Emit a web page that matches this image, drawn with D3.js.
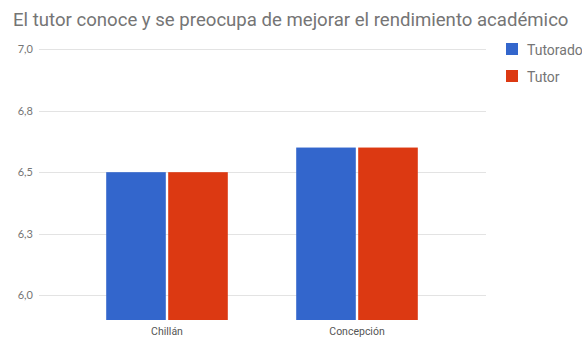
<!DOCTYPE html>
<html>
<head>
<meta charset="utf-8">
<script src="https://cdn.jsdelivr.net/npm/d3@7"></script>
<style>
  html, body { margin: 0; padding: 0; background: #fff; }
  svg { display: block; font-family: Roboto, "Noto Sans", Arial, sans-serif; }
</style>
</head>
<body>
<svg id="chart" width="582" height="338"></svg>
<script>
const title = "El tutor conoce y se preocupa de mejorar el rendimiento académico";
const categories = ["Chillán", "Concepción"];
const seriesNames = ["Tutorado", "Tutor"];
const tutoradoValues = [6.5, 6.6];
const tutorValues = [6.5, 6.6];
const tickValues = [6.0, 6.25, 6.5, 6.75, 7.0];
const tickLabels = ["6,0", "6,3", "6,5", "6,8", "7,0"];
const colors = ["#3366cc", "#dc3912"];

const seriesValues = [tutoradoValues, tutorValues];

const svg = d3.select("#chart");

const y = d3.scaleLinear().domain([5.9, 7.0]).range([320, 49]);
const x0 = d3.scaleBand().domain(categories).range([72, 452]).paddingInner(0.36).paddingOuter(0.18);
const x1 = d3.scaleBand().domain(seriesNames).range([0, x0.bandwidth()]);

// title
svg.append("text")
  .attr("x", 13).attr("y", 26)
  .attr("font-size", 18.6)
  .attr("fill", "#757575")
  .text(title);

// gridlines
svg.append("g").selectAll("line").data(tickValues).join("line")
  .attr("x1", 39).attr("x2", 486)
  .attr("y1", d => Math.round(y(d)) + 0.5).attr("y2", d => Math.round(y(d)) + 0.5)
  .attr("stroke", "#e3e3e3").attr("stroke-width", 1);

// y axis labels
const yAxis = d3.axisLeft(y).tickValues(tickValues).tickFormat((d, i) => tickLabels[i]).tickSize(0).tickPadding(0);
const gy = svg.append("g").attr("transform", "translate(33,0)").call(yAxis);
gy.select(".domain").remove();
gy.selectAll("text").attr("font-size", 11).attr("fill", "#757575").attr("font-family", "Lato, Roboto, sans-serif");

// bars
const groups = svg.append("g").selectAll("g").data(categories).join("g")
  .attr("transform", d => `translate(${x0(d)},0)`);
groups.selectAll("rect")
  .data((c, ci) => seriesNames.map((s, si) => ({ s, v: seriesValues[si][ci], si })))
  .join("rect")
  .attr("x", d => x1(d.s) + (d.si === 1 ? 1.2 : 0))
  .attr("width", x1.bandwidth() - 1.2)
  .attr("y", d => y(d.v))
  .attr("height", d => y(5.9) - y(d.v))
  .attr("fill", d => colors[d.si]);

// x axis labels
const xAxis = d3.axisBottom(x0).tickSize(0).tickPadding(0);
const gx = svg.append("g").attr("transform", "translate(0,328)").call(xAxis);
gx.select(".domain").remove();
gx.selectAll("text").attr("font-size", 10.5).attr("fill", "#555").attr("font-family", "Roboto, sans-serif");

// legend
const legend = svg.append("g").selectAll("g").data(seriesNames).join("g")
  .attr("transform", (d, i) => `translate(506,${43 + i * 27})`);
legend.append("rect").attr("width", 12).attr("height", 12).attr("fill", (d, i) => colors[i]);
legend.append("text").attr("x", 21).attr("y", 11.5)
  .attr("font-size", 14).attr("fill", "#757575").text(d => d);
</script>
</body>
</html>
